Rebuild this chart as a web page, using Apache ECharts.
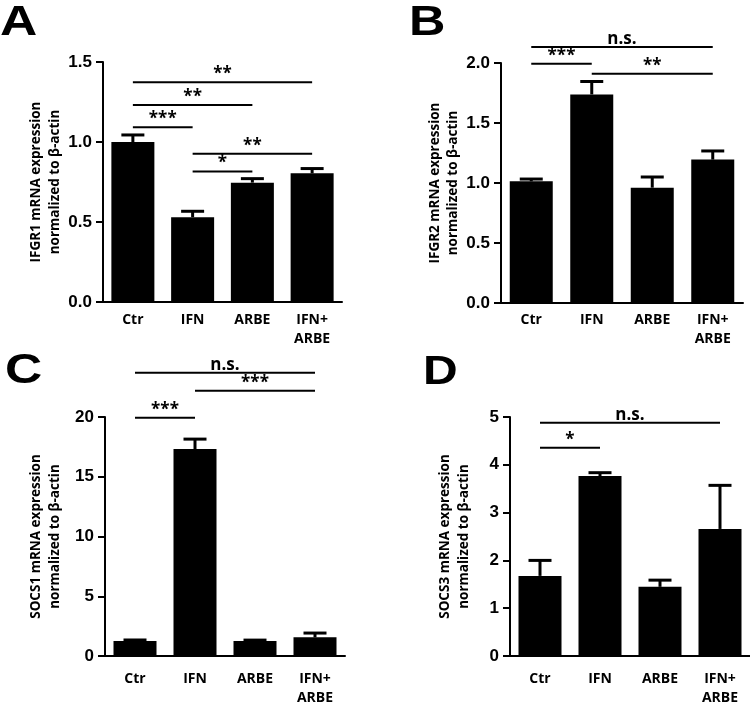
<!DOCTYPE html>
<html><head><meta charset="utf-8">
<script src="https://cdn.jsdelivr.net/npm/echarts@6/dist/echarts.min.js"></script>
<style>html,body{margin:0;padding:0;background:#fff}#c{width:750px;height:703px}</style>
</head><body><div id="c"></div>
<script>
const categories = ['Ctr', 'IFN', 'ARBE', 'IFN+\nARBE'];

const meansA = [1.00, 0.53, 0.746, 0.804];
const errA   = [0.044, 0.037, 0.025, 0.030];
const meansB = [1.014, 1.738, 0.961, 1.195];
const errB   = [0.019, 0.108, 0.089, 0.072];
const meansC = [1.25, 17.32, 1.25, 1.56];
const errC   = [0.09, 0.83, 0.08, 0.36];
const meansD = [1.676, 3.765, 1.447, 2.658];
const errD   = [0.324, 0.07, 0.14, 0.912];

// [from category, to category, height, label]
const sigA = [[0,3,1.373,'**'],[0,2,1.231,'**'],[0,1,1.092,'***'],[1,3,0.927,'**'],[1,2,0.815,'*']];
const sigB = [[0,3,2.134,'n.s.'],[0,1,1.994,'***'],[1,3,1.911,'**']];
const sigC = [[0,3,23.7,'n.s.'],[1,3,22.2,'***'],[0,1,19.94,'***']];
const sigD = [[0,3,4.88,'n.s.'],[0,1,4.357,'*']];

const yTitles = [
  'IFGR1 mRNA expression\nnormalized to β-actin',
  'IFGR2 mRNA expression\nnormalized to β-actin',
  'SOCS1 mRNA expression\nnormalized to β-actin',
  'SOCS3 mRNA expression\nnormalized to β-actin'
];
const yMax = [1.5, 2, 20, 5];
const yInterval = [0.5, 0.5, 5, 1];
const yDecimals = [1, 1, 0, 0];
const panelLetters = ['A', 'B', 'C', 'D'];

const panels = [
  {means: meansA, err: errA, sig: sigA},
  {means: meansB, err: errB, sig: sigB},
  {means: meansC, err: errC, sig: sigC},
  {means: meansD, err: errD, sig: sigD}
];

const grids = [
  {left: 103, top: 62, width: 239, height: 240},
  {left: 501, top: 63, width: 242, height: 240},
  {left: 105, top: 417, width: 240, height: 239},
  {left: 510, top: 417, width: 240, height: 239}
];
const nameGaps = [39, 32, 41, 37];
const labelMargins = [9, 8, 14, 14];
const letterPos = [[0, 2], [409, 2], [5, 350], [423, 353]];
const letterSize = [43, 42, 43, 40];

const SANS = '"Open Sans", sans-serif';
const ARIAL = '"Liberation Sans", Arial, sans-serif';

const xAxes = [], yAxes = [], series = [], graphics = [];
panels.forEach((p, i) => {
  xAxes.push({
    type: 'category', gridIndex: i, data: categories,
    axisLine: {lineStyle: {color: '#000', width: 2}},
    axisTick: {show: false},
    axisLabel: {color: '#000', fontFamily: SANS, fontWeight: 'bold', fontSize: 14, lineHeight: 19, margin: labelMargins[i], interval: 0}
  });
  yAxes.push({
    type: 'value', gridIndex: i, min: 0, max: yMax[i], interval: yInterval[i],
    name: yTitles[i], nameLocation: 'middle', nameRotate: 90, nameGap: nameGaps[i],
    nameTextStyle: {color: '#000', fontFamily: SANS, fontWeight: 'bold', fontSize: 13.5, lineHeight: 18.5},
    axisLine: {show: true, lineStyle: {color: '#000', width: 2}},
    axisTick: {show: true, length: 7, lineStyle: {color: '#000', width: 2}},
    splitLine: {show: false},
    axisLabel: {color: '#000', fontFamily: ARIAL, fontWeight: 'bold', fontSize: 17, margin: 11,
      formatter: v => v.toFixed(yDecimals[i])}
  });
  series.push({
    type: 'bar', xAxisIndex: i, yAxisIndex: i, data: p.means, barWidth: 43,
    itemStyle: {color: '#000'}, silent: true, animation: false
  });
  series.push({
    type: 'custom', xAxisIndex: i, yAxisIndex: i, animation: false, silent: true, z: 3,
    data: p.means.map((m, k) => [k, m, m + p.err[k]]),
    encode: {x: 0, y: [1, 2]},
    renderItem: (params, api) => {
      const b = api.coord([api.value(0), api.value(1)]);
      const t = api.coord([api.value(0), api.value(2)]);
      return {type: 'group', children: [
        {type: 'line', shape: {x1: b[0], y1: b[1], x2: t[0], y2: t[1]}, style: {stroke: '#000', lineWidth: 3}},
        {type: 'line', shape: {x1: t[0] - 11.5, y1: t[1], x2: t[0] + 11.5, y2: t[1]}, style: {stroke: '#000', lineWidth: 3}}
      ]};
    }
  });
  series.push({
    type: 'custom', xAxisIndex: i, yAxisIndex: i, animation: false, silent: true, z: 4, clip: false,
    data: p.sig.map(s => [s[0], s[1], Math.min(s[2], yMax[i])]),
    encode: {x: 0, y: 2},
    renderItem: (params, api) => {
      const s = p.sig[params.dataIndex];
      const a = api.coord([s[0], s[2]]);
      const b = api.coord([s[1], s[2]]);
      return {type: 'group', children: [
        {type: 'line', shape: {x1: a[0], y1: a[1], x2: b[0], y2: b[1]}, style: {stroke: '#000', lineWidth: 2}},
        {type: 'text', x: (a[0] + b[0]) / 2, y: a[1] + 0.5,
          style: {text: s[3], align: 'center', verticalAlign: 'bottom', fill: '#000',
            font: 'bold 17px ' + SANS}}
      ]};
    }
  });
  graphics.push({
    type: 'text', x: letterPos[i][0], y: letterPos[i][1], scaleX: 1.2,
    style: {text: panelLetters[i], fill: '#000', x: 0, y: 0, verticalAlign: 'top', align: 'left',
      font: 'bold ' + letterSize[i] + 'px ' + ARIAL}
  });
});

const chart = echarts.init(document.getElementById('c'), null, {renderer: 'canvas'});
chart.setOption({
  backgroundColor: '#fff',
  animation: false,
  grid: grids.map(g => Object.assign({containLabel: false, outerBoundsMode: 'none'}, g)),
  xAxis: xAxes,
  yAxis: yAxes,
  series: series,
  graphic: graphics
});
</script></body></html>
